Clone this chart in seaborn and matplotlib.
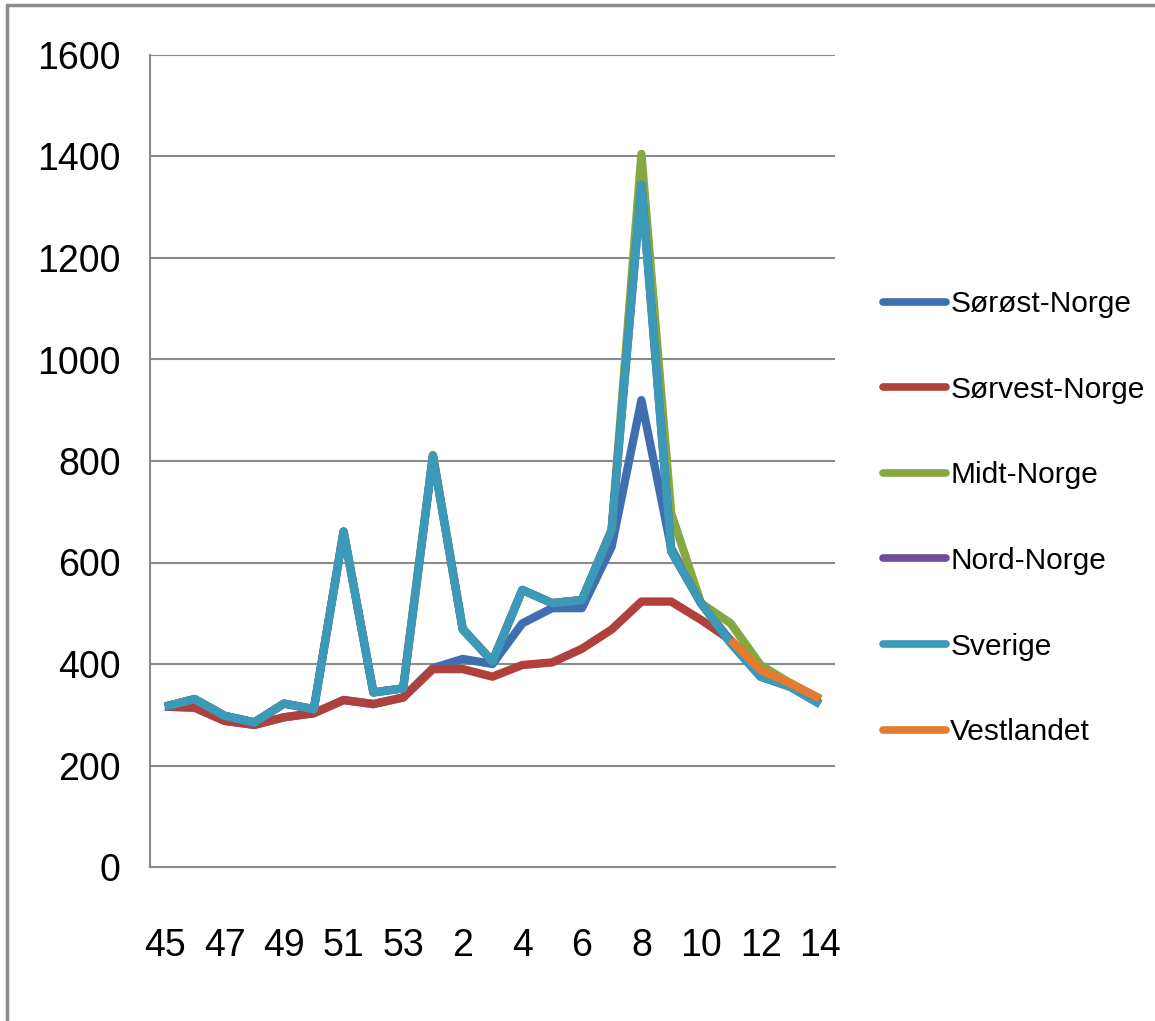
import numpy as np
import pandas as pd
import seaborn as sns
import matplotlib.pyplot as plt
from matplotlib.lines import Line2D

# data
#--------------------------------------
weeks = ["45", "46", "47", "48", "49", "50", "51", "52", "53",
         "1", "2", "3", "4", "5", "6", "7", "8", "9", "10", "11", "12", "13", "14"]
tick_labels = ["45", "47", "49", "51", "53", "2", "4", "6", "8", "10", "12", "14"]

sorost = [316, 314, 288, 280, 295, 303, 329, 321, 334, 392, 410, 400,
          480, 510, 510, 631, 920, 628, 520, 445, 377, 356, 322]
sorvest = [316, 314, 288, 280, 295, 303, 329, 321, 334, 390, 390, 375,
           398, 403, 430, 468, 523, 523, 487, 447, 390, 362, 330]
midt = [316, 331, 298, 285, 322, 311, 661, 344, 352, 812, 470, 405,
        546, 520, 526, 664, 1405, 697, 520, 480, 398, 362, 330]
nord = [316, 331, 298, 285, 322, 311, 661, 344, 352, 810, 468, 405,
        546, 520, 526, 664, 1344, 622, 520, 441, 375, 355, 321]
sverige = [316, 331, 298, 285, 322, 311, 661, 344, 352, 810, 468, 405,
           546, 520, 526, 664, 1344, 622, 520, 441, 375, 355, 321]
vestlandet = [np.nan] * 19 + [447, 388, 362, 332]

series_names = ["Sørøst-Norge", "Sørvest-Norge", "Midt-Norge",
                "Nord-Norge", "Sverige", "Vestlandet"]
series_values = [sorost, sorvest, midt, nord, sverige, vestlandet]
colors = ["#3F6FB0", "#B0403C", "#86A842", "#6A4E98", "#3A9AB8", "#E37C30"]

# long form table
#--------------------------------------
rows = []
for name, vals in zip(series_names, series_values):
    for i, v in enumerate(vals):
        rows.append({"pos": i, "week": weeks[i], "region": name, "value": v})
df = pd.DataFrame(rows).dropna()

# figure
#--------------------------------------
sns.set_style("white")
plt.rcParams['font.family'] = ['Liberation Sans', 'DejaVu Sans']
plt.rcParams['text.color'] = 'black'
plt.rcParams['xtick.labelcolor'] = 'black'
plt.rcParams['ytick.labelcolor'] = 'black'

fig = plt.figure(figsize=(11.55, 10.21), dpi=100)
ax = fig.add_axes([150 / 1155, 154 / 1021, 685 / 1155, 812 / 1021])

grid_col = "#8a8a8a"
for y in range(200, 1601, 200):
    ax.axhline(y, color=grid_col, lw=1.5, zorder=0)

sns.lineplot(data=df, x="pos", y="value", hue="region", hue_order=series_names,
             palette=colors, linewidth=6, sort=False, ax=ax,
             solid_joinstyle="round", solid_capstyle="butt", legend=False)

ax.set_xlim(-0.5, len(weeks) - 0.5)
ax.set_ylim(0, 1600)
ax.set_yticks(range(0, 1601, 200))
ax.set_xticks(range(0, len(weeks), 2))
ax.set_xticklabels(tick_labels)
ax.set_xticks(np.arange(-0.5, len(weeks), 1), minor=True)
ax.set_xlabel("")
ax.set_ylabel("")

ax.tick_params(axis="x", which="major", length=0, pad=44, labelsize=27)
ax.tick_params(axis="x", which="minor", length=11, width=1.3, color=grid_col, direction="out")
ax.tick_params(axis="y", length=9, width=1.3, color=grid_col, direction="out", pad=12, labelsize=27)

for side in ["top", "right"]:
    ax.spines[side].set_visible(False)
for side in ["left", "bottom"]:
    ax.spines[side].set_color(grid_col)
    ax.spines[side].set_linewidth(1.5)

# legend
#--------------------------------------
handles = [Line2D([0], [0], color=c, lw=5.5, solid_capstyle="round") for c in colors]
fig.legend(handles, series_names, loc="upper left",
           bbox_to_anchor=(883 / 1155, 1 - 290 / 1021),
           frameon=False, fontsize=21.5, handlelength=2.1, handletextpad=0.15,
           labelspacing=1.93, borderpad=0, borderaxespad=0)

# outer chart border (only top and left edges show)
#--------------------------------------
fig.add_artist(Line2D([7 / 1155, 1], [1 - 5 / 1021, 1 - 5 / 1021],
                      transform=fig.transFigure, color="#8c8c8c", lw=2.5))
fig.add_artist(Line2D([7 / 1155, 7 / 1155], [0, 1 - 5 / 1021],
                      transform=fig.transFigure, color="#8c8c8c", lw=2.5))

plt.savefig("out.png", dpi=100)
